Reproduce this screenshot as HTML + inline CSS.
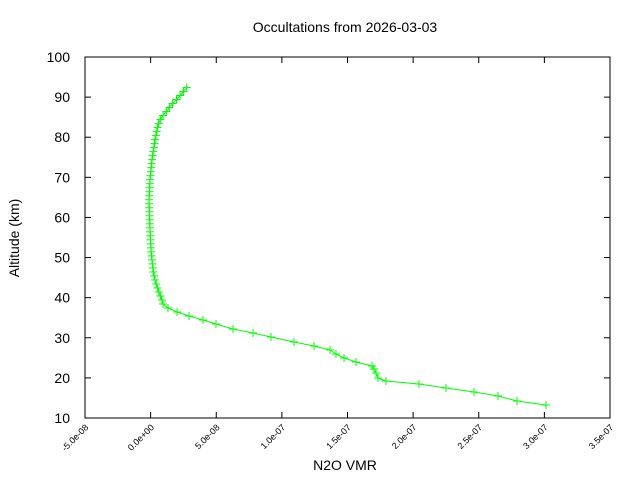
<!DOCTYPE html>
<html><head><meta charset="utf-8"><style>
html,body{margin:0;padding:0;background:#fff;}
svg{display:block;font-family:"Liberation Sans",sans-serif;}
</style></head><body>
<svg id="s" width="640" height="480" xmlns="http://www.w3.org/2000/svg">
<rect width="640" height="480" fill="#fff"/>
<text x="345" y="32" font-size="14" text-anchor="middle">Occultations from 2026-03-03</text>
<rect x="85" y="57" width="525" height="361" fill="none" stroke="#000" stroke-width="1"/>
<g id="ticks" stroke="#000" stroke-width="1"></g>
<g id="yl" font-size="14" text-anchor="end"></g>
<g id="xl" font-size="9" text-anchor="end"></g>
<text x="345" y="470" font-size="14" text-anchor="middle">N2O VMR</text>
<text transform="translate(19,238) rotate(-90)" font-size="14" text-anchor="middle">Altitude (km)</text>
<polyline id="line" fill="none" stroke="#00ff00" stroke-width="1"/>
<g id="mk" stroke="#00ff00" stroke-width="1"></g>
</svg>
<script>
var ns="http://www.w3.org/2000/svg";
function el(t,a,p,txt){var e=document.createElementNS(ns,t);for(var k in a)e.setAttribute(k,a[k]);if(txt)e.textContent=txt;document.getElementById(p).appendChild(e);}
for(var i=0;i<=9;i++){var y=418-i*40.11;
el('line',{x1:85,y1:y,x2:91,y2:y},'ticks');el('line',{x1:610,y1:y,x2:604,y2:y},'ticks');
el('text',{x:70,y:y+5},'yl',String(10+i*10));}
var labs=["-5.0e-08","0.0e+00","5.0e-08","1.0e-07","1.5e-07","2.0e-07","2.5e-07","3.0e-07","3.5e-07"];
for(var i=0;i<=8;i++){var x=85+i*65.625;
el('line',{x1:x,y1:418,x2:x,y2:412},'ticks');el('line',{x1:x,y1:57,x2:x,y2:63},'ticks');
el('text',{x:x+4,y:428,transform:'rotate(-45 '+(x+4)+' 428)'},'xl',labs[i]);}
var key=[[546,405],[517,401],[498,396],[474,392],[446,388],[419,384],[386,381],[378,378],[376,373],[374,369],[372,366],[356,362],[344,358],[336,354],[330,350],[314,346],[294,342],[271,337],[253,333],[233,329],[216,324],[203,320],[189,316],[177,312],[168,308],[163,304]];
var up=[[162,300],[158,290],[155,280],[153,270],[151,250],[150,230],[149,200],[150,180],[152,160],[155,140],[158,125],[161,118],[166,112],[172,104],[178,98],[183,92],[188,86]];
function interp(y){for(var i=0;i<up.length-1;i++){var a=up[i],b=up[i+1];if(y<=a[1]&&y>=b[1]){var t=(a[1]-y)/(a[1]-b[1]);return a[0]+t*(b[0]-a[0]);}}return up[up.length-1][0];}
var pts=key.slice();
for(var y=300;y>=86;y-=4.01){pts.push([interp(y),y]);}
document.getElementById('line').setAttribute('points',pts.map(function(p){return p[0].toFixed(1)+','+p[1].toFixed(1)}).join(' '));
pts.forEach(function(p){el('line',{x1:p[0]-4,y1:p[1],x2:p[0]+4,y2:p[1]},'mk');el('line',{x1:p[0],y1:p[1]-4,x2:p[0],y2:p[1]+4},'mk');});
</script>
</body></html>
